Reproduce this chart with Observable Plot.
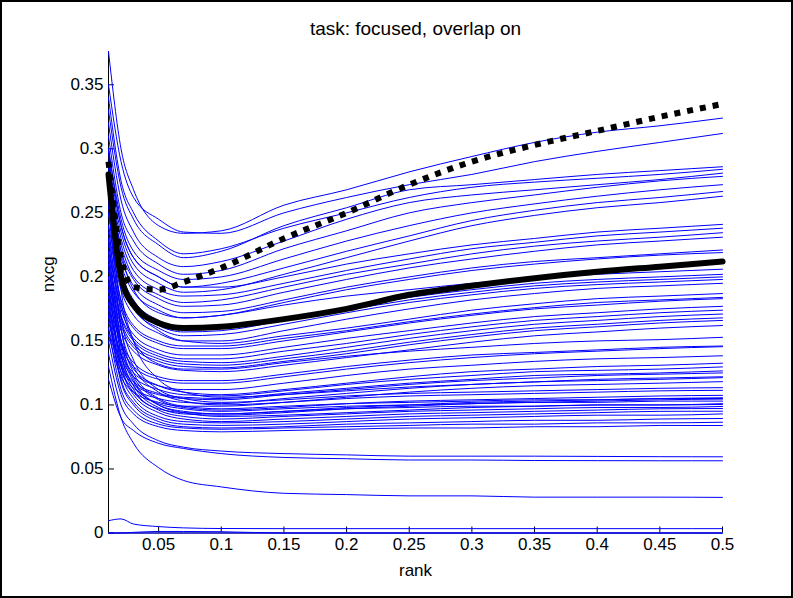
<!DOCTYPE html>
<html>
<head>
<meta charset="utf-8">
<script src="https://cdn.jsdelivr.net/npm/d3@7"></script>
<script src="https://cdn.jsdelivr.net/npm/@observablehq/plot@0.6"></script>
<style>
  html, body { margin: 0; padding: 0; background: #fff; }
  #chart svg { display: block; border: 2px solid #000; background: #fff; }
</style>
</head>
<body>
<div id="chart"></div>
<script>
// ---- data ----
const titleText = "task: focused, overlap on";
const xLabel = "rank";
const yLabel = "nxcg";
const xDomain = [0.01, 0.5];
const yDomain = [0, 0.376];
const xTicks = [0.05, 0.1, 0.15, 0.2, 0.25, 0.3, 0.35, 0.4, 0.45, 0.5];
const yTicks = [0, 0.05, 0.1, 0.15, 0.2, 0.25, 0.3, 0.35];

const rank = [0.01, 0.02, 0.03, 0.05, 0.07, 0.1, 0.15, 0.2, 0.25, 0.3, 0.35, 0.4, 0.45, 0.5];

// thick black curves
const meanSolid  = [0.280, 0.200, 0.178, 0.164, 0.160, 0.161, 0.167, 0.175, 0.186, 0.193, 0.199, 0.204, 0.208, 0.212];
const bestDotted = [0.290, 0.215, 0.192, 0.190, 0.196, 0.207, 0.230, 0.250, 0.272, 0.290, 0.303, 0.314, 0.325, 0.335];

// individual runs (blue)
const b01 = [0.376, 0.300, 0.268, 0.240, 0.234, 0.236, 0.256, 0.268, 0.282, 0.294, 0.305, 0.313, 0.318, 0.324];
const b02 = [0.350, 0.290, 0.262, 0.245, 0.235, 0.234, 0.250, 0.262, 0.272, 0.280, 0.290, 0.298, 0.305, 0.312];
const b03 = [0.330, 0.270, 0.245, 0.225, 0.215, 0.220, 0.240, 0.254, 0.268, 0.272, 0.276, 0.280, 0.283, 0.286];
const b04 = [0.340, 0.275, 0.250, 0.228, 0.218, 0.222, 0.238, 0.250, 0.262, 0.270, 0.274, 0.277, 0.280, 0.284];
const b05 = [0.320, 0.260, 0.235, 0.215, 0.208, 0.212, 0.228, 0.245, 0.258, 0.264, 0.268, 0.272, 0.276, 0.281];
const b06 = [0.310, 0.250, 0.228, 0.210, 0.202, 0.205, 0.222, 0.236, 0.250, 0.258, 0.264, 0.270, 0.275, 0.2785];
const b07 = [0.300, 0.245, 0.220, 0.205, 0.198, 0.200, 0.214, 0.228, 0.240, 0.250, 0.257, 0.263, 0.268, 0.272];
const b08 = [0.290, 0.240, 0.215, 0.200, 0.192, 0.195, 0.207, 0.220, 0.232, 0.244, 0.252, 0.258, 0.262, 0.2667];
const b09 = [0.285, 0.235, 0.210, 0.195, 0.188, 0.190, 0.202, 0.215, 0.228, 0.240, 0.248, 0.254, 0.258, 0.263];
const b10 = [0.300, 0.240, 0.215, 0.200, 0.192, 0.192, 0.200, 0.210, 0.218, 0.225, 0.230, 0.235, 0.238, 0.241];
const b11 = [0.280, 0.230, 0.205, 0.190, 0.185, 0.186, 0.195, 0.205, 0.214, 0.222, 0.227, 0.232, 0.235, 0.238];
const b12 = [0.270, 0.225, 0.200, 0.186, 0.180, 0.182, 0.192, 0.202, 0.210, 0.218, 0.224, 0.228, 0.231, 0.2345];
const b13 = [0.265, 0.220, 0.198, 0.183, 0.177, 0.178, 0.188, 0.198, 0.207, 0.214, 0.220, 0.225, 0.228, 0.231];
const b14 = [0.260, 0.215, 0.193, 0.178, 0.172, 0.173, 0.182, 0.192, 0.200, 0.207, 0.212, 0.215, 0.218, 0.221];
const b15 = [0.255, 0.210, 0.188, 0.174, 0.168, 0.170, 0.180, 0.190, 0.198, 0.205, 0.210, 0.214, 0.217, 0.219];
const b16 = [0.290, 0.220, 0.190, 0.172, 0.168, 0.170, 0.178, 0.185, 0.190, 0.195, 0.199, 0.202, 0.204, 0.206];
const b17 = [0.260, 0.205, 0.182, 0.166, 0.160, 0.160, 0.168, 0.176, 0.184, 0.190, 0.195, 0.198, 0.200, 0.202];
const b18 = [0.250, 0.200, 0.178, 0.162, 0.157, 0.158, 0.166, 0.174, 0.182, 0.188, 0.193, 0.196, 0.198, 0.200];
const b19 = [0.240, 0.195, 0.175, 0.160, 0.154, 0.155, 0.163, 0.172, 0.180, 0.186, 0.191, 0.194, 0.196, 0.198];
const b20 = [0.235, 0.190, 0.170, 0.156, 0.150, 0.150, 0.158, 0.167, 0.175, 0.182, 0.187, 0.191, 0.193, 0.195];
const b21 = [0.300, 0.210, 0.178, 0.158, 0.150, 0.148, 0.154, 0.160, 0.167, 0.174, 0.179, 0.183, 0.185, 0.187];
const b22 = [0.230, 0.182, 0.162, 0.150, 0.146, 0.146, 0.152, 0.158, 0.165, 0.171, 0.176, 0.180, 0.182, 0.184];
const b23 = [0.220, 0.178, 0.160, 0.148, 0.144, 0.144, 0.150, 0.157, 0.164, 0.170, 0.175, 0.178, 0.181, 0.183];
const b24 = [0.225, 0.175, 0.155, 0.143, 0.139, 0.139, 0.145, 0.152, 0.158, 0.164, 0.169, 0.172, 0.175, 0.177];
const b25 = [0.215, 0.170, 0.152, 0.140, 0.136, 0.136, 0.142, 0.148, 0.155, 0.161, 0.166, 0.169, 0.172, 0.174];
const b26 = [0.210, 0.168, 0.150, 0.138, 0.134, 0.133, 0.138, 0.145, 0.152, 0.158, 0.163, 0.166, 0.169, 0.171];
const b27 = [0.205, 0.165, 0.147, 0.136, 0.132, 0.131, 0.136, 0.142, 0.149, 0.155, 0.160, 0.163, 0.166, 0.168];
const b28 = [0.200, 0.162, 0.145, 0.134, 0.130, 0.129, 0.134, 0.140, 0.147, 0.153, 0.158, 0.161, 0.164, 0.166];
const b29 = [0.195, 0.158, 0.142, 0.131, 0.127, 0.126, 0.131, 0.137, 0.143, 0.149, 0.154, 0.157, 0.160, 0.162];
const b30 = [0.250, 0.180, 0.150, 0.132, 0.128, 0.128, 0.133, 0.138, 0.142, 0.145, 0.148, 0.150, 0.151, 0.1528];
const b31 = [0.190, 0.150, 0.133, 0.122, 0.119, 0.119, 0.124, 0.130, 0.135, 0.139, 0.141, 0.143, 0.145, 0.146];
const b32 = [0.185, 0.147, 0.130, 0.120, 0.117, 0.117, 0.122, 0.128, 0.133, 0.137, 0.140, 0.142, 0.144, 0.1455];
const b33 = [0.175, 0.140, 0.125, 0.115, 0.112, 0.112, 0.117, 0.123, 0.128, 0.131, 0.134, 0.136, 0.137, 0.1384];
const b34 = [0.200, 0.150, 0.128, 0.115, 0.110, 0.108, 0.112, 0.117, 0.122, 0.126, 0.128, 0.130, 0.131, 0.1326];
const b35 = [0.180, 0.138, 0.122, 0.112, 0.108, 0.107, 0.111, 0.116, 0.120, 0.123, 0.126, 0.127, 0.128, 0.1297];
const b36 = [0.170, 0.132, 0.118, 0.109, 0.106, 0.105, 0.109, 0.113, 0.117, 0.120, 0.123, 0.124, 0.125, 0.1266];
const b37 = [0.165, 0.130, 0.116, 0.108, 0.105, 0.104, 0.108, 0.112, 0.116, 0.119, 0.121, 0.123, 0.124, 0.125];
const b38 = [0.160, 0.126, 0.113, 0.105, 0.102, 0.101, 0.105, 0.109, 0.113, 0.116, 0.118, 0.120, 0.121, 0.122];
const b39 = [0.300, 0.190, 0.150, 0.120, 0.110, 0.106, 0.108, 0.111, 0.114, 0.116, 0.118, 0.119, 0.120, 0.1213];
const b40 = [0.155, 0.122, 0.110, 0.102, 0.099, 0.099, 0.102, 0.106, 0.110, 0.113, 0.115, 0.116, 0.117, 0.1182];
const b41 = [0.270, 0.170, 0.135, 0.112, 0.105, 0.102, 0.104, 0.107, 0.109, 0.110, 0.111, 0.112, 0.113, 0.1135];
const b42 = [0.240, 0.160, 0.130, 0.110, 0.103, 0.100, 0.102, 0.105, 0.107, 0.108, 0.109, 0.110, 0.111, 0.1114];
const b43 = [0.220, 0.150, 0.122, 0.104, 0.098, 0.096, 0.098, 0.101, 0.103, 0.104, 0.105, 0.106, 0.107, 0.1075];
const b44 = [0.210, 0.145, 0.118, 0.100, 0.095, 0.093, 0.095, 0.098, 0.100, 0.102, 0.103, 0.104, 0.105, 0.1056];
const b45 = [0.200, 0.140, 0.115, 0.098, 0.093, 0.092, 0.094, 0.097, 0.099, 0.101, 0.102, 0.103, 0.104, 0.1046];
const b46 = [0.230, 0.150, 0.120, 0.100, 0.094, 0.091, 0.092, 0.094, 0.096, 0.098, 0.099, 0.100, 0.100, 0.1004];
const b47 = [0.190, 0.135, 0.112, 0.096, 0.091, 0.089, 0.091, 0.093, 0.095, 0.096, 0.097, 0.098, 0.098, 0.0988];
const b48 = [0.185, 0.130, 0.108, 0.094, 0.089, 0.087, 0.089, 0.091, 0.093, 0.094, 0.095, 0.096, 0.097, 0.0972];
const b49 = [0.180, 0.125, 0.105, 0.091, 0.087, 0.086, 0.087, 0.089, 0.091, 0.092, 0.093, 0.094, 0.095, 0.0951];
const b50 = [0.175, 0.120, 0.102, 0.089, 0.085, 0.084, 0.085, 0.087, 0.089, 0.090, 0.091, 0.092, 0.092, 0.093];
const b51 = [0.170, 0.118, 0.100, 0.087, 0.083, 0.082, 0.083, 0.085, 0.086, 0.087, 0.088, 0.088, 0.089, 0.0894];
const b52 = [0.160, 0.112, 0.096, 0.085, 0.082, 0.081, 0.082, 0.083, 0.084, 0.085, 0.085, 0.086, 0.086, 0.0865];
const b53 = [0.150, 0.108, 0.093, 0.083, 0.080, 0.079, 0.080, 0.081, 0.082, 0.082, 0.083, 0.083, 0.084, 0.0839];
const b54 = [0.260, 0.160, 0.125, 0.105, 0.099, 0.097, 0.099, 0.101, 0.102, 0.103, 0.104, 0.104, 0.105, 0.105];
const b55 = [0.215, 0.140, 0.115, 0.101, 0.097, 0.095, 0.097, 0.099, 0.100, 0.101, 0.102, 0.102, 0.103, 0.103];
const b56 = [0.195, 0.132, 0.110, 0.097, 0.094, 0.093, 0.095, 0.097, 0.098, 0.099, 0.099, 0.100, 0.100, 0.101];
const b57 = [0.140, 0.100, 0.085, 0.072, 0.067, 0.064, 0.062, 0.061, 0.060, 0.060, 0.060, 0.0598, 0.0596, 0.0595];
const b58 = [0.120, 0.090, 0.080, 0.070, 0.066, 0.062, 0.059, 0.058, 0.057, 0.057, 0.0566, 0.0565, 0.0564, 0.0564];
const b59 = [0.130, 0.090, 0.070, 0.051, 0.041, 0.036, 0.031, 0.030, 0.029, 0.029, 0.028, 0.028, 0.028, 0.0278];
const b60 = [0.0096, 0.011, 0.007, 0.005, 0.004, 0.0035, 0.0034, 0.0034, 0.0034, 0.0034, 0.0034, 0.0034, 0.0034, 0.0034];
const b61 = [0, 0, 0.0005, 0.0012, 0.0012, 0.001, 0, 0, 0, 0, 0, 0, 0, 0];
const b62 = [0, 0, 0, 0, 0, 0, 0, 0, 0, 0, 0, 0, 0, 0];

const blueRuns = [b01,b02,b03,b04,b05,b06,b07,b08,b09,b10,b11,b12,b13,b14,b15,b16,b17,b18,b19,b20,
  b21,b22,b23,b24,b25,b26,b27,b28,b29,b30,b31,b32,b33,b34,b35,b36,b37,b38,b39,b40,
  b41,b42,b43,b44,b45,b46,b47,b48,b49,b50,b51,b52,b53,b54,b55,b56,b57,b58,b59,b60,b61,b62];

// ---- build tidy rows ----
const blueRows = blueRuns.flatMap((vals, i) => vals.map((v, j) => ({r: rank[j], v, s: i})));
const solidRows = meanSolid.map((v, j) => ({r: rank[j], v}));
const dottedRows = bestDotted.map((v, j) => ({r: rank[j], v}));

const fmt = d => String(+d.toFixed(2));

const chart = Plot.plot({
  width: 789,
  height: 594,
  marginLeft: 106,
  marginRight: 69,
  marginTop: 49,
  marginBottom: 63.5,
  style: {fontFamily: "'Liberation Sans', Arial, Helvetica, sans-serif", fontSize: "17px", color: "#000", background: "#fff"},
  x: {domain: xDomain},
  y: {domain: yDomain},
  marks: [
    Plot.ruleX([xDomain[0]], {stroke: "#000", strokeWidth: 1}),
    Plot.ruleY([yDomain[0]], {stroke: "#000", strokeWidth: 1}),
    Plot.axisX({ticks: xTicks, tickFormat: fmt, tickSize: -6, tickPadding: 11, label: null, fontSize: 17}),
    Plot.axisY({ticks: yTicks, tickFormat: fmt, tickSize: -6, tickPadding: 11, label: null, fontSize: 17}),
    Plot.line(blueRows, {x: "r", y: "v", z: "s", stroke: "#0000ff", strokeWidth: 1, curve: "monotone-x"}),
    Plot.line(solidRows, {x: "r", y: "v", stroke: "#000", strokeWidth: 6, curve: "monotone-x"}),
    Plot.line(dottedRows, {x: "r", y: "v", stroke: "#000", strokeWidth: 6, strokeDasharray: "6,7", strokeLinecap: "butt", curve: "monotone-x"}),
    Plot.text([titleText], {text: d => d, frameAnchor: "top", lineAnchor: "middle", dy: -23, fontSize: 19}),
    Plot.text([xLabel], {text: d => d, frameAnchor: "bottom", lineAnchor: "middle", dy: 38, fontSize: 17}),
    Plot.text([yLabel], {text: d => d, frameAnchor: "left", lineAnchor: "middle", dx: -60, rotate: -90, fontSize: 17})
  ]
});
document.getElementById("chart").appendChild(chart);
</script>
</body>
</html>
